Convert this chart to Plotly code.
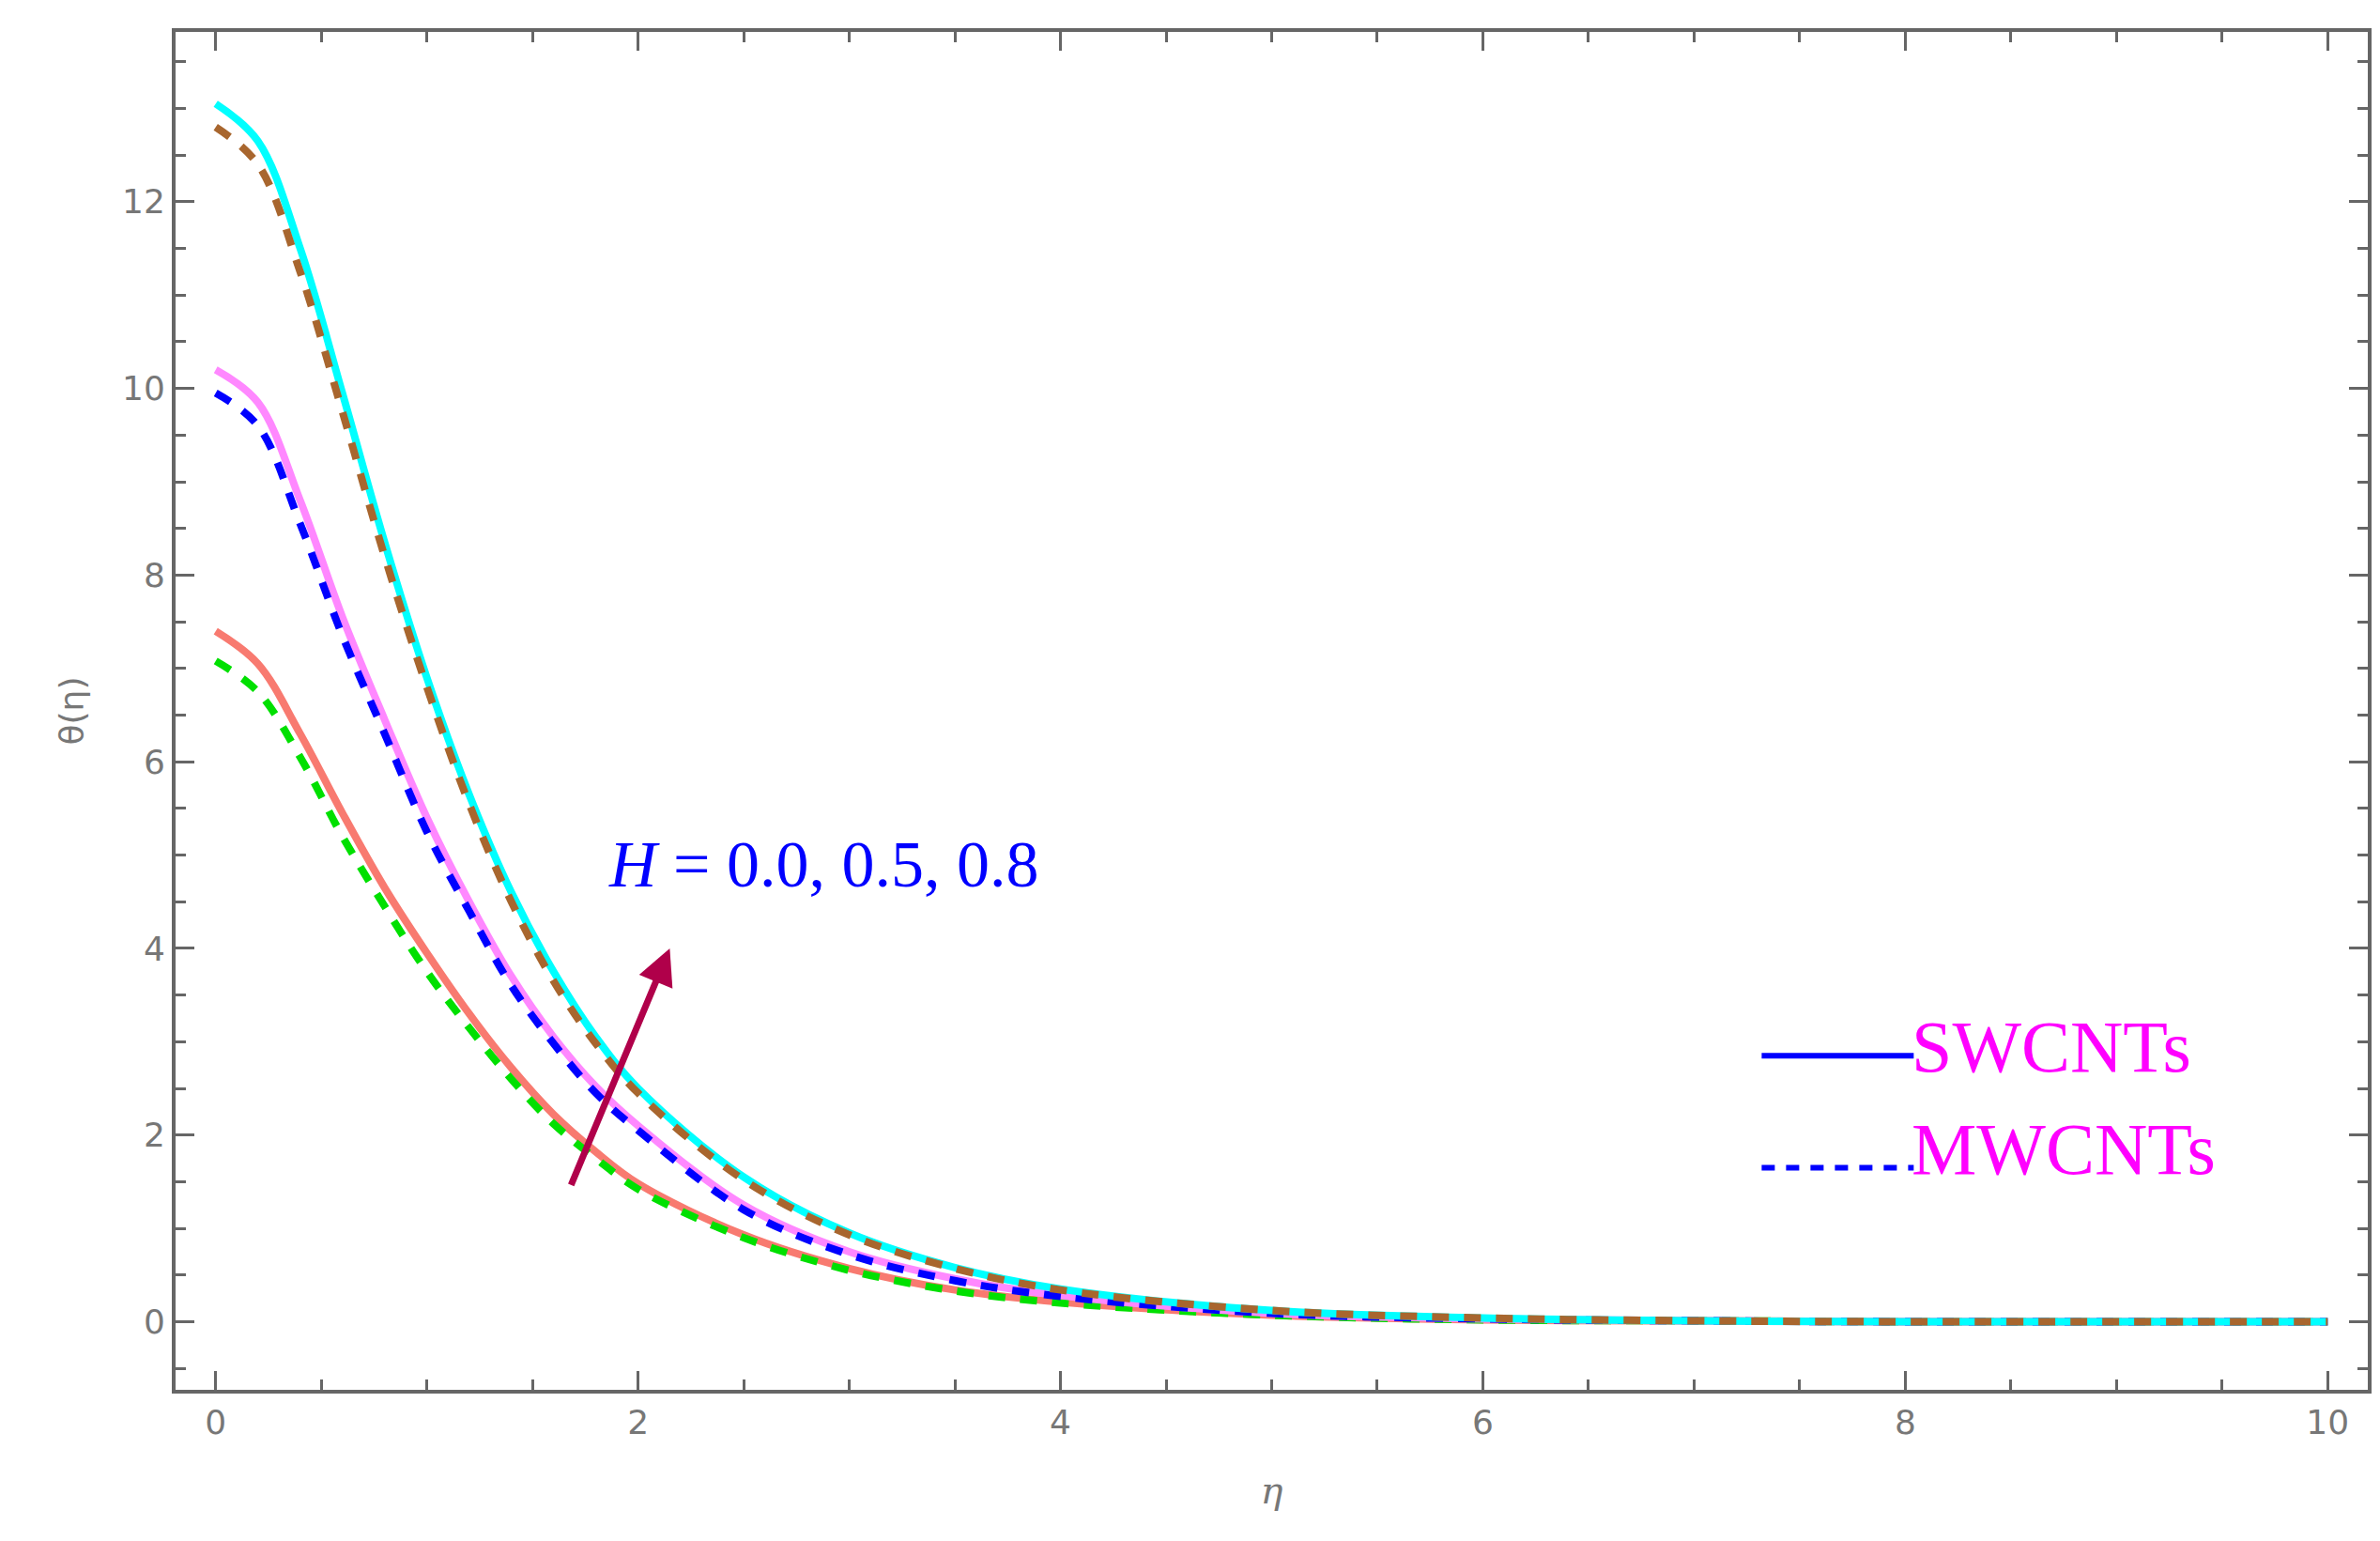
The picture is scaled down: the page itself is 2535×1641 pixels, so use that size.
import plotly.graph_objects as go

eta = [0, 0.2, 0.4, 0.6, 0.8, 1.0, 1.2, 1.4, 1.6, 1.8, 2.0, 2.5, 3, 3.5, 4, 5, 6, 7, 8, 10]

# SWCNTs (solid) and MWCNTs (dashed) for H = 0.0, 0.5, 0.8
sw_h00 = [7.4, 7.05, 6.3, 5.45, 4.65, 3.95, 3.3, 2.72, 2.22, 1.82, 1.48, 0.93, 0.57, 0.34, 0.21, 0.07, 0.02, 0.01, 0, 0]
mw_h00 = [7.08, 6.75, 6.05, 5.2, 4.45, 3.75, 3.15, 2.6, 2.12, 1.75, 1.42, 0.9, 0.55, 0.33, 0.2, 0.07, 0.02, 0.01, 0, 0]
sw_h05 = [10.2, 9.85, 8.8, 7.55, 6.45, 5.4, 4.5, 3.7, 3.05, 2.52, 2.1, 1.25, 0.75, 0.46, 0.28, 0.09, 0.03, 0.01, 0, 0]
mw_h05 = [9.95, 9.6, 8.55, 7.35, 6.3, 5.25, 4.4, 3.6, 2.98, 2.45, 2.05, 1.2, 0.72, 0.44, 0.27, 0.09, 0.03, 0.01, 0, 0]
sw_h08 = [13.05, 12.65, 11.5, 9.95, 8.35, 6.9, 5.65, 4.6, 3.75, 3.05, 2.5, 1.55, 0.95, 0.58, 0.35, 0.12, 0.04, 0.01, 0, 0]
mw_h08 = [12.8, 12.4, 11.25, 9.75, 8.2, 6.8, 5.55, 4.5, 3.65, 2.98, 2.45, 1.52, 0.93, 0.57, 0.34, 0.12, 0.04, 0.01, 0, 0]

fig = go.Figure()
series = [
    (sw_h00, "#f87a70", "solid"), (mw_h00, "#00e000", "18px,16px"),
    (sw_h05, "#ff88ff", "solid"), (mw_h05, "#0000ff", "18px,16px"),
    (sw_h08, "#00ffff", "solid"), (mw_h08, "#a8662e", "18px,16px"),
]
for ys, col, dash in series:
    fig.add_trace(go.Scatter(x=eta, y=ys, mode="lines",
                             line=dict(color=col, width=8, dash=dash, shape="spline", smoothing=1.0),
                             showlegend=False))

# legend drawn inside the plot
fig.add_trace(go.Scatter(x=[7.32, 8.04], y=[2.85, 2.85], mode="lines", line=dict(color="#0000ff", width=6), showlegend=False))
fig.add_trace(go.Scatter(x=[7.32, 8.04], y=[1.65, 1.65], mode="lines", line=dict(color="#0000ff", width=6, dash="14px,12px"), showlegend=False))
leg_font = dict(family="Liberation Serif", size=78, color="#ff00ff")
fig.add_annotation(x=8.02, y=2.95, text="SWCNTs", showarrow=False, xanchor="left", font=leg_font)
fig.add_annotation(x=8.02, y=1.85, text="MWCNTs", showarrow=False, xanchor="left", font=leg_font)

fig.add_annotation(x=1.85, y=4.9, text="<i>H</i> = 0.0, 0.5, 0.8", showarrow=False, xanchor="left",
                   font=dict(family="Liberation Serif", size=70, color="#0000ff"))
fig.add_annotation(x=2.15, y=4.0, ax=1.68, ay=1.45, axref="x", ayref="y", text="", showarrow=True,
                   arrowhead=2, arrowsize=1.1, arrowwidth=7, arrowcolor="#b0004a")

axis_common = dict(showgrid=False, zeroline=False, showline=True, linecolor="#666", linewidth=4, mirror="ticks",
                   ticks="inside", ticklen=20, tickwidth=3, tickcolor="#666",
                   tickfont=dict(family="DejaVu Sans", size=36, color="#777"),
                   minor=dict(ticks="inside", ticklen=11, tickwidth=3, tickcolor="#666"))
fig.update_xaxes(range=[-0.19, 10.19], tickvals=[0, 2, 4, 6, 8, 10], minor_dtick=0.5,
                 title=dict(text="<i>η</i>", standoff=40, font=dict(family="DejaVu Serif", size=40, color="#777")),
                 **axis_common)
fig.update_yaxes(range=[-0.73, 13.82], tickvals=[0, 2, 4, 6, 8, 10, 12], minor_dtick=0.5,
                 title=dict(text="θ(η)", standoff=30, font=dict(family="DejaVu Sans", size=36, color="#777")),
                 **axis_common)
fig.update_layout(width=2535, height=1641, plot_bgcolor="white", paper_bgcolor="white",
                  margin=dict(l=179, r=21, t=26, b=169))
fig.write_html("out.html")
